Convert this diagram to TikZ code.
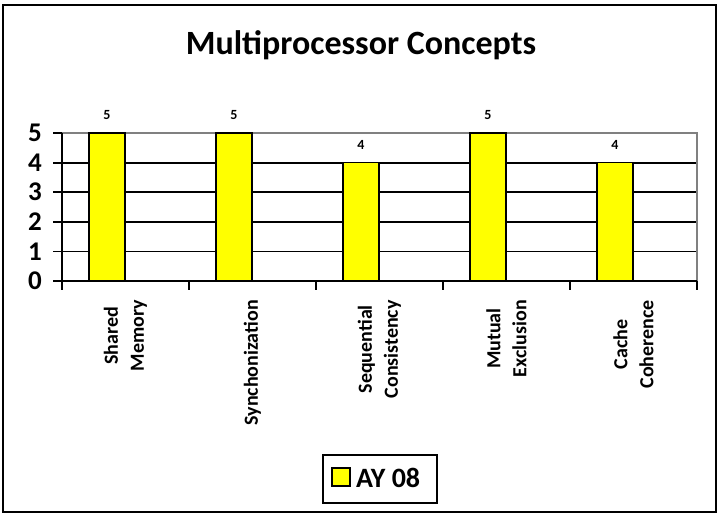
\documentclass[tikz,border=0pt]{standalone}
\usepackage{fontspec}
\setmainfont{Carlito}
\definecolor{baryellow}{RGB}{255,255,0}
\definecolor{framegray}{RGB}{128,128,128}
\tikzset{
  frame/.style={line width=2pt, draw=black},
  gridline/.style={line width=1.8pt, draw=black},
  axisline/.style={line width=1.8pt, draw=black},
  plotborder/.style={line width=2.4pt, draw=framegray},
  barbox/.style={draw=black, line width=1.5pt, fill=baryellow},
  vallab/.style={font=\bfseries\fontsize{14}{16}\selectfont, inner sep=0pt},
  ylab/.style={font=\bfseries\fontsize{27}{30}\selectfont, inner sep=0pt, anchor=east},
  catlab/.style={font=\bfseries\fontsize{20}{26}\selectfont, inner sep=0pt, rotate=90, anchor=east, align=center},
  titlelab/.style={font=\bfseries\fontsize{34}{40}\selectfont, inner sep=0pt},
  legbox/.style={draw=black, line width=1.5pt, minimum width=114pt, minimum height=48pt, inner sep=0pt},
  legsquare/.style={draw=black, line width=1.3pt, fill=baryellow, minimum size=18pt, inner sep=0pt},
  legtext/.style={font=\bfseries\fontsize{28}{32}\selectfont, inner sep=0pt, anchor=west}
}
\begin{document}
\begin{tikzpicture}[x=1pt,y=-1pt]
\useasboundingbox (0,0) rectangle (718,515);
\fill[white] (0,0) rectangle (718,515);
\draw[frame] (3,5) rectangle (716,512);

% title
\node[titlelab] (title) at (361,45) {Multiprocessor Concepts};

% grid lines
\foreach \v in {1,2,3,4}{
  \draw[gridline] (62,{281-29.6*\v}) -- (697,{281-29.6*\v});
}
% plot border (gray)
\draw[plotborder] (62,133) -- (697,133) -- (697,281);

% axes
\coordinate (o) at (62,281);
\coordinate (ytop) at (62,133);
\coordinate (xend) at (697,281);
\draw[axisline] (o) -- (ytop);
\draw[axisline] (o) -- (xend);
\foreach \v in {0,...,5}{
  \draw[axisline] (53,{281-29.6*\v}) -- (62,{281-29.6*\v});
  \node[ylab] (y\v) at (42,{281-29.6*\v}) {\v};
}
\foreach \i in {0,...,5}{
  \draw[axisline] ({62+127*\i},281) -- ({62+127*\i},290);
}

% bars
\foreach \i/\val in {0/5,1/5,2/4,3/5,4/4}{
  \draw[barbox] ({89+127*\i},281) rectangle ({125+127*\i},{281-29.6*\val});
  \node[vallab] (val\i) at ({107+127*\i},{281-29.6*\val-18}) {\val};
}

% category labels
\node[catlab] (c0) at (125.5,300) {Shared\\Memory};
\node[catlab] (c1) at (252.5,300) {Synchonization};
\node[catlab] (c2) at (379.5,300) {Sequential\\Consistency};
\node[catlab] (c3) at (506.5,300) {Mutual\\Exclusion};
\node[catlab] (c4) at (633.5,300) {Cache\\Coherence};

% legend
\node[legbox] (leg) at (380,479) {};
\node[legsquare] (legsq) at (341,477) {};
\node[legtext] (legtxt) at (356,478) {AY 08};
\end{tikzpicture}
\end{document}
